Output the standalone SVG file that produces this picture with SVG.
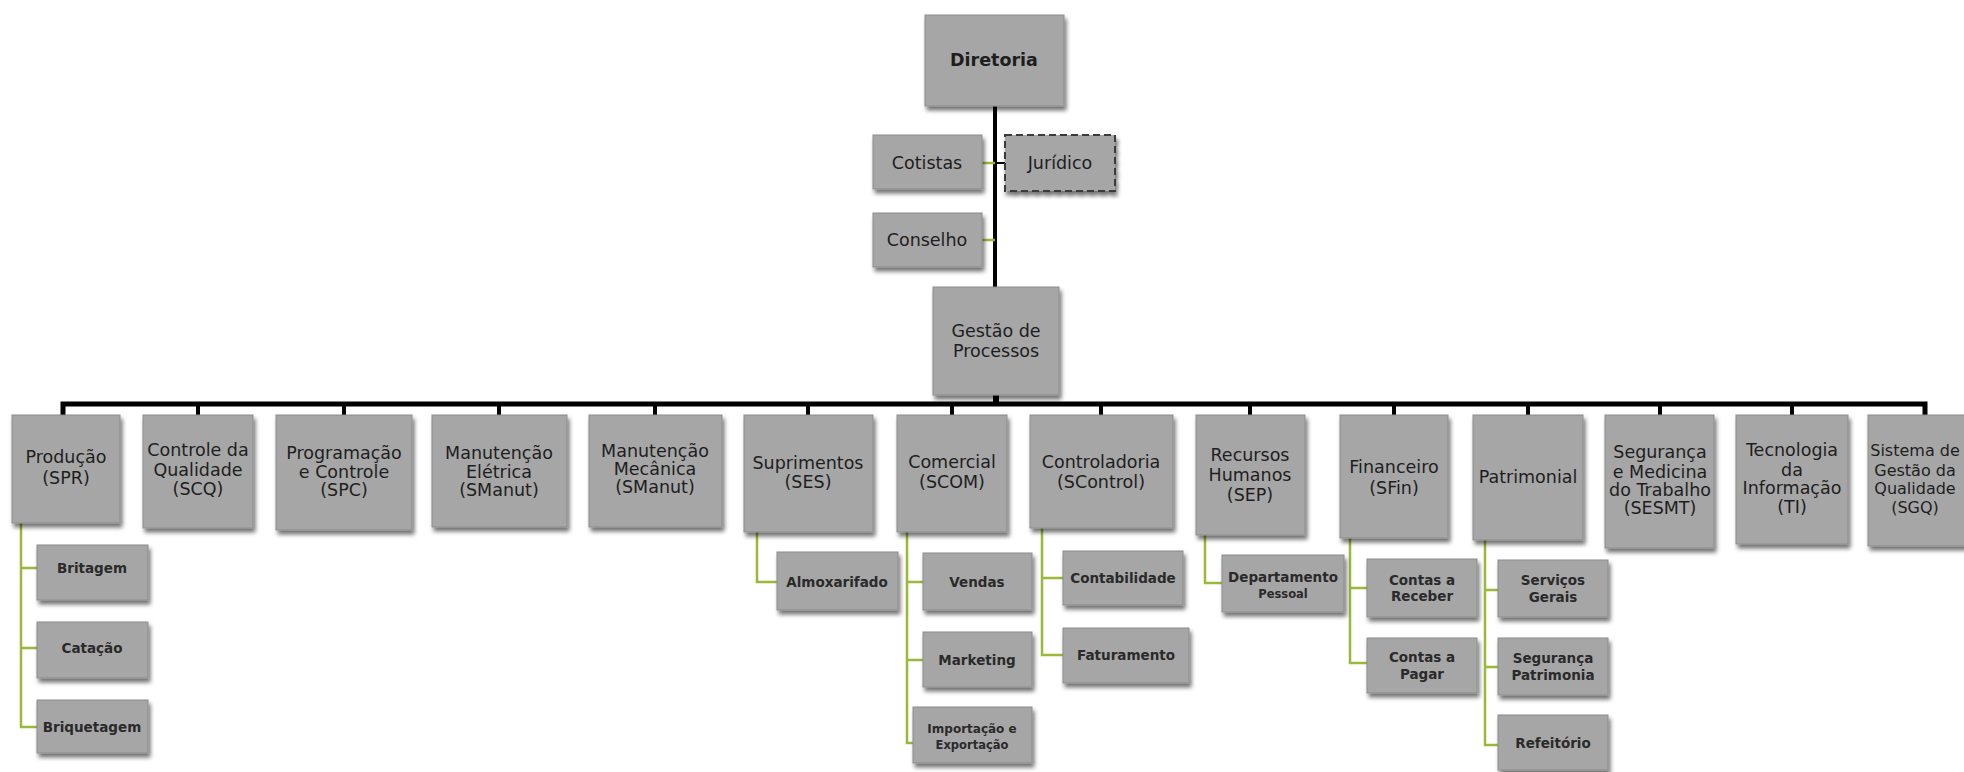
<svg xmlns="http://www.w3.org/2000/svg" width="1964" height="772" viewBox="0 0 1964 772">
<defs>
<filter id="sh" x="-10%" y="-10%" width="125%" height="130%">
<feDropShadow dx="2" dy="4" stdDeviation="2" flood-color="#000" flood-opacity="0.55"/>
</filter>
</defs>
<style>
.box{fill:#a6a6a6;stroke:#8c8c8c;stroke-width:1;filter:url(#sh)}
.dash{fill:#a6a6a6;stroke:#3a3a3a;stroke-width:2;stroke-dasharray:7 4;filter:url(#sh)}
.t{font-family:"DejaVu Sans","Liberation Sans",sans-serif;font-size:17.5px;fill:#1e1e1e;text-anchor:middle;dominant-baseline:central}
.b{font-weight:bold}
.s{font-family:"DejaVu Sans","Liberation Sans",sans-serif;font-size:13.5px;font-weight:bold;fill:#2a2a2a;text-anchor:middle;dominant-baseline:central}
.k{stroke:#000;fill:none}
.g{stroke:#9ab83a;stroke-width:2.5;fill:none}
</style>
<rect width="1964" height="772" fill="#fff"/>
<g id="connectors">
<line class="k" x1="995" y1="106" x2="995" y2="288" stroke-width="4"/>
<line class="g" x1="982" y1="163" x2="995" y2="163"/>
<line class="k" x1="995" y1="163" x2="1005" y2="163" stroke-width="2"/>
<line class="g" x1="982" y1="240" x2="995" y2="240"/>
<line class="k" x1="996" y1="395" x2="996" y2="404" stroke-width="6"/>
<path class="k" stroke-width="5" d="M63 415 V404 H1925 V415"/>
<g stroke="#000" stroke-width="4">
<line x1="198" y1="404" x2="198" y2="415"/>
<line x1="344" y1="404" x2="344" y2="415"/>
<line x1="499" y1="404" x2="499" y2="415"/>
<line x1="655" y1="404" x2="655" y2="415"/>
<line x1="808" y1="404" x2="808" y2="415"/>
<line x1="952" y1="404" x2="952" y2="415"/>
<line x1="1101" y1="404" x2="1101" y2="415"/>
<line x1="1250" y1="404" x2="1250" y2="415"/>
<line x1="1394" y1="404" x2="1394" y2="415"/>
<line x1="1528" y1="404" x2="1528" y2="415"/>
<line x1="1660" y1="404" x2="1660" y2="415"/>
<line x1="1792" y1="404" x2="1792" y2="415"/>
</g>
<path class="g" d="M21 523 V727 H37 M21 568 H37 M21 648 H37"/>
<path class="g" d="M757 532 V582 H777"/>
<path class="g" d="M907 532 V743 H913 M907 582 H923 M907 660 H923"/>
<path class="g" d="M1042 528 V655 H1063 M1042 578 H1063"/>
<path class="g" d="M1205 535 V583 H1222"/>
<path class="g" d="M1350 538 V663 H1367 M1350 588 H1367"/>
<path class="g" d="M1485 540 V745 H1498 M1485 590 H1498 M1485 667 H1498"/>
</g>
<g id="diretoria"><rect class="box" x="925" y="15" width="139" height="91"/><text class="t b" x="994" y="60">Diretoria</text></g>
<g id="cotistas"><rect class="box" x="873" y="135" width="109" height="54"/><text class="t" x="927" y="163">Cotistas</text></g>
<g id="juridico"><rect class="dash" x="1005" y="135" width="110" height="56"/><text class="t" x="1060" y="163">Jurídico</text></g>
<g id="conselho"><rect class="box" x="873" y="213" width="109" height="54"/><text class="t" x="927" y="240">Conselho</text></g>
<g id="gestao"><rect class="box" x="933" y="287" width="126" height="108"/><text class="t" x="996" y="331">Gestão de</text><text class="t" x="996" y="351">Processos</text></g>

<g id="producao"><rect class="box" x="12" y="415" width="108" height="108"/><text class="t" x="66" y="457">Produção</text><text class="t" x="66" y="478">(SPR)</text></g>
<g id="qualidade"><rect class="box" x="143" y="415" width="110" height="113"/><text class="t" x="198" y="450">Controle da</text><text class="t" x="198" y="470">Qualidade</text><text class="t" x="198" y="489">(SCQ)</text></g>
<g id="programacao"><rect class="box" x="276" y="415" width="136" height="115"/><text class="t" x="344" y="453">Programação</text><text class="t" x="344" y="472">e Controle</text><text class="t" x="344" y="490">(SPC)</text></g>
<g id="eletrica"><rect class="box" x="432" y="415" width="135" height="112"/><text class="t" x="499" y="453">Manutenção</text><text class="t" x="499" y="472">Elétrica</text><text class="t" x="499" y="490">(SManut)</text></g>
<g id="mecanica"><rect class="box" x="589" y="415" width="133" height="112"/><text class="t" x="655" y="451">Manutenção</text><text class="t" x="655" y="469">Mecânica</text><text class="t" x="655" y="487">(SManut)</text></g>
<g id="suprimentos"><rect class="box" x="744" y="415" width="129" height="117"/><text class="t" x="808" y="463">Suprimentos</text><text class="t" x="808" y="482">(SES)</text></g>
<g id="comercial"><rect class="box" x="897" y="415" width="110" height="117"/><text class="t" x="952" y="462">Comercial</text><text class="t" x="952" y="482">(SCOM)</text></g>
<g id="controladoria"><rect class="box" x="1030" y="415" width="143" height="113"/><text class="t" x="1101" y="462">Controladoria</text><text class="t" x="1101" y="482">(SControl)</text></g>
<g id="rh"><rect class="box" x="1196" y="415" width="109" height="120"/><text class="t" x="1250" y="455">Recursos</text><text class="t" x="1250" y="475">Humanos</text><text class="t" x="1250" y="495">(SEP)</text></g>
<g id="financeiro"><rect class="box" x="1340" y="415" width="108" height="123"/><text class="t" x="1394" y="467">Financeiro</text><text class="t" x="1394" y="488">(SFin)</text></g>
<g id="patrimonial"><rect class="box" x="1473" y="415" width="110" height="125"/><text class="t" x="1528" y="477">Patrimonial</text></g>
<g id="sesmt"><rect class="box" x="1605" y="415" width="109" height="133"/><text class="t" x="1660" y="452">Segurança</text><text class="t" x="1660" y="472">e Medicina</text><text class="t" x="1660" y="490">do Trabalho</text><text class="t" x="1660" y="508">(SESMT)</text></g>
<g id="ti"><rect class="box" x="1736" y="415" width="112" height="129"/><text class="t" x="1792" y="450">Tecnologia</text><text class="t" x="1792" y="470">da</text><text class="t" x="1792" y="488">Informação</text><text class="t" x="1792" y="507">(TI)</text></g>
<g id="sgq"><rect class="box" x="1868" y="415" width="114" height="131"/><text class="t" x="1915" y="450" style="font-size:16px">Sistema de</text><text class="t" x="1915" y="470" style="font-size:16px">Gestão da</text><text class="t" x="1915" y="488" style="font-size:16px">Qualidade</text><text class="t" x="1915" y="507" style="font-size:16px">(SGQ)</text></g>

<g id="britagem"><rect class="box" x="37" y="545" width="111" height="55"/><text class="s" x="92" y="568">Britagem</text></g>
<g id="catacao"><rect class="box" x="37" y="622" width="111" height="56"/><text class="s" x="92" y="648">Catação</text></g>
<g id="briquetagem"><rect class="box" x="37" y="700" width="111" height="53"/><text class="s" x="92" y="727">Briquetagem</text></g>
<g id="almoxarifado"><rect class="box" x="777" y="552" width="121" height="58"/><text class="s" x="837" y="582">Almoxarifado</text></g>
<g id="vendas"><rect class="box" x="923" y="553" width="109" height="57"/><text class="s" x="977" y="582">Vendas</text></g>
<g id="marketing"><rect class="box" x="923" y="632" width="109" height="55"/><text class="s" x="977" y="660">Marketing</text></g>
<g id="importacao"><rect class="box" x="913" y="707" width="119" height="56"/><text class="s" x="972" y="729" style="font-size:12px">Importação e</text><text class="s" x="972" y="745" style="font-size:11.5px">Exportação</text></g>
<g id="contabilidade"><rect class="box" x="1063" y="551" width="120" height="54"/><text class="s" x="1123" y="578">Contabilidade</text></g>
<g id="faturamento"><rect class="box" x="1063" y="628" width="126" height="55"/><text class="s" x="1126" y="655">Faturamento</text></g>
<g id="dp"><rect class="box" x="1222" y="555" width="122" height="57"/><text class="s" x="1283" y="577">Departamento</text><text class="s" x="1283" y="594" style="font-size:11.5px">Pessoal</text></g>
<g id="receber"><rect class="box" x="1367" y="559" width="110" height="58"/><text class="s" x="1422" y="580">Contas a</text><text class="s" x="1422" y="596">Receber</text></g>
<g id="pagar"><rect class="box" x="1367" y="638" width="110" height="55"/><text class="s" x="1422" y="657">Contas a</text><text class="s" x="1422" y="674">Pagar</text></g>
<g id="servicos"><rect class="box" x="1498" y="560" width="110" height="57"/><text class="s" x="1553" y="580">Serviços</text><text class="s" x="1553" y="597">Gerais</text></g>
<g id="segpat"><rect class="box" x="1498" y="638" width="110" height="57"/><text class="s" x="1553" y="658">Segurança</text><text class="s" x="1553" y="675">Patrimonia</text></g>
<g id="refeitorio"><rect class="box" x="1498" y="715" width="110" height="55"/><text class="s" x="1553" y="743">Refeitório</text></g>
</svg>
